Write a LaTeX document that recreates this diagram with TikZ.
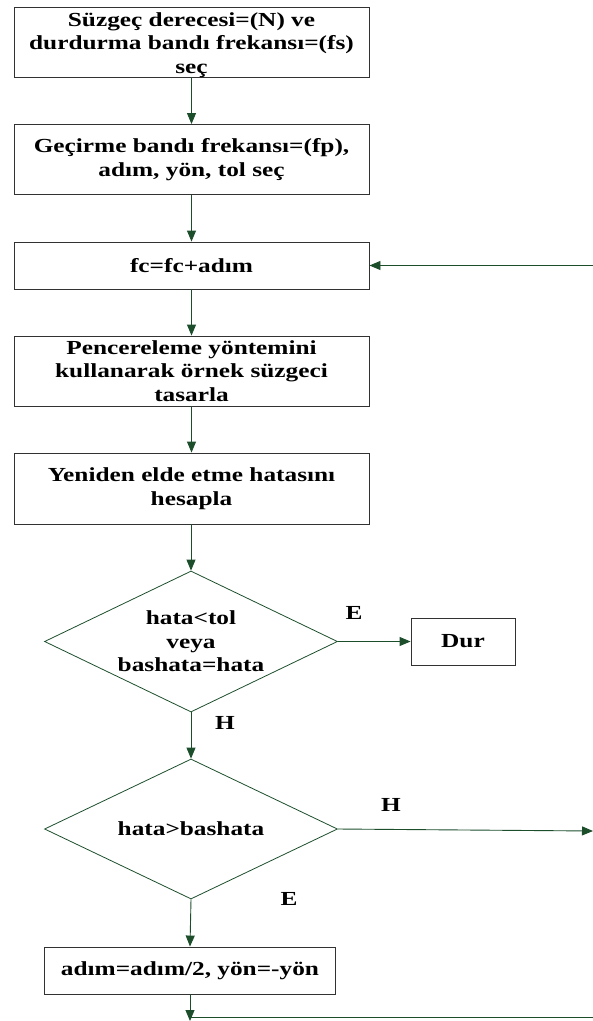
\documentclass[tikz,border=0pt]{standalone}
\usepackage{fontspec}
\setmainfont[FakeStretch=1.27]{Liberation Serif}
\usetikzlibrary{shapes.geometric,arrows.meta}
\definecolor{lgreen}{RGB}{28,78,44}
\definecolor{bgray}{RGB}{50,50,50}
\tikzset{
  proc/.style={draw=bgray, line width=0.9bp, rectangle, minimum width=355bp, inner sep=0pt, align=center, font=\fontsize{20}{23.5}\selectfont\bfseries},
  dec/.style={draw=lgreen, line width=0.8bp, diamond, shape aspect=2.08, minimum width=293bp, minimum height=141bp, inner sep=0pt, align=center, font=\fontsize{20}{23.5}\selectfont\bfseries},
  lab/.style={font=\fontsize{20}{23.5}\selectfont\bfseries},
  arr/.style={draw=lgreen, line width=0.9bp, -{Triangle[length=11bp,width=9bp]}},
  ln/.style={draw=lgreen, line width=0.9bp}
}
\begin{document}
\begin{tikzpicture}[x=1bp,y=-1bp]
\useasboundingbox (0,0) rectangle (593,1021);
\node[proc, minimum height=70bp] (b1) at (191.5,42) {};
\node[font=\fontsize{20}{23.5}\selectfont\bfseries, align=center, inner sep=0pt] (b1t) at (191.5,45) {Süzgeç derecesi=(N) ve\\durdurma bandı frekansı=(fs)\\seç};
\node[proc, minimum height=70bp] (b2) at (191.5,159.5) {Geçirme bandı frekansı=(fp),\\adım, yön, tol seç};
\node[proc, minimum height=47bp] (b3) at (191.5,265.5) {fc=fc+adım};
\node[proc, minimum height=70bp] (b4) at (191.5,371) {Pencereleme yöntemini\\kullanarak örnek süzgeci\\tasarla};
\node[proc, minimum height=71bp] (b5) at (191.5,488.5) {Yeniden elde etme hatasını\\hesapla};
\node[dec] (d1) at (191,641.5) {hata<tol\\veya\\bashata=hata};
\node[proc, minimum width=104bp, minimum height=47bp] (dur) at (463,641.5) {Dur};
\node[dec, minimum height=140bp] (d2) at (191,829) {hata>bashata};
\node[proc, minimum width=291bp, minimum height=47bp] (b6) at (190,970.5) {adım=adım/2, yön=-yön};
\coordinate (rin) at (593,265.5);
\coordinate (rout) at (593,831);
\coordinate (bend) at (190,1021);
\coordinate (bl) at (191,1017);
\coordinate (br) at (593,1017);
\node[lab] (lE1) at (354,613) {E};
\node[lab] (lH1) at (225,723) {H};
\node[lab] (lH2) at (391,805) {H};
\node[lab] (lE2) at (289,899) {E};
\draw[arr] (b1) -- (b2);
\draw[arr] (b2) -- (b3);
\draw[arr] (b3) -- (b4);
\draw[arr] (b4) -- (b5);
\draw[arr] (b5.south -| d1.north) -- (d1.north);
\draw[arr] (rin) -- (b3.east);
\draw[arr] (d1.east) -- (dur.west);
\draw[arr] (d1.south) -- (d2.north);
\draw[arr] (d2.east) -- (rout);
\draw[arr] (d2.south) -- (b6.north);
\draw[arr] (b6.south) -- (bend);
\draw[ln] (bl) -- (br);
\end{tikzpicture}
\end{document}
